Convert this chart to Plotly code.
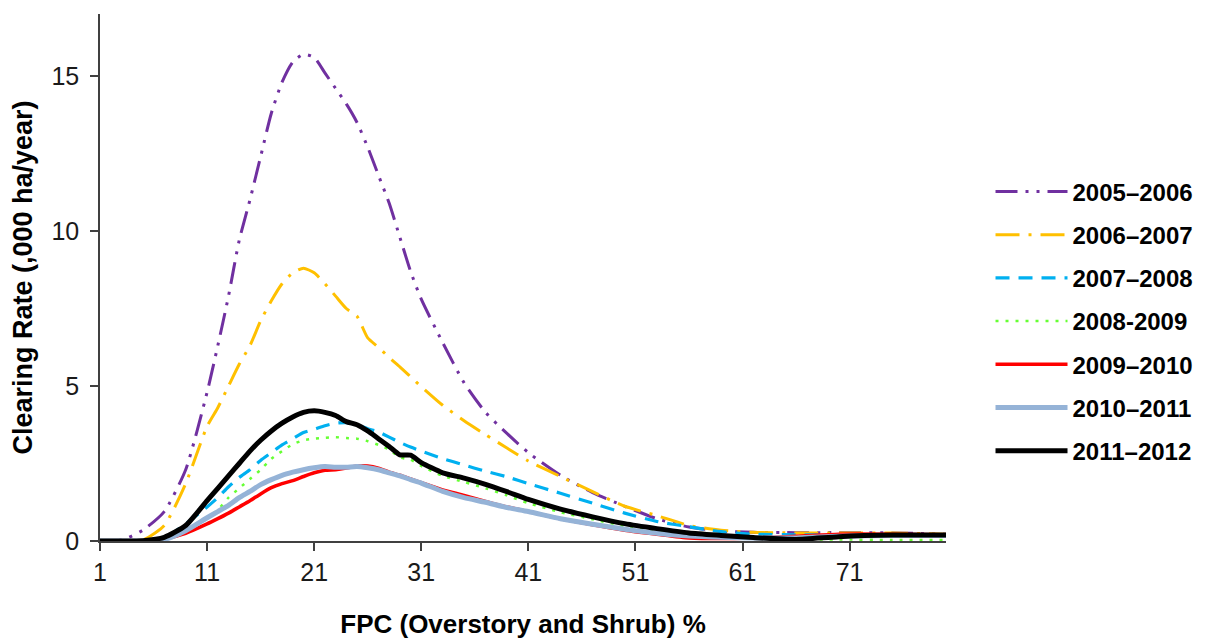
import plotly.graph_objects as go

fpc = [1, 3, 5, 7, 9,
       11, 12, 13, 14, 15, 16, 17, 18, 19, 20, 21, 22, 23, 24, 25, 26, 27, 28, 29, 30,
       31, 33, 35, 37, 39, 41,
       44, 47, 50, 53, 56, 59, 62, 66, 70, 75, 80]

s_2005_2006 = [0, 0.03, 0.35, 0.95, 2.3,
               4.8, 6.3, 7.9, 9.7, 11.0, 12.4, 13.8, 14.8, 15.45, 15.7, 15.6, 15.1, 14.6, 14.1, 13.5, 12.7, 11.8, 10.9, 9.8, 8.7,
               7.8, 6.4, 5.1, 4.15, 3.47, 2.85,
               2.12, 1.56, 1.12, 0.72, 0.45, 0.32, 0.28, 0.27, 0.27, 0.26, 0.22]
s_2006_2007 = [0, 0, 0.03, 0.5, 1.85,
               3.7, 4.3, 5.0, 5.7, 6.3, 7.1, 7.75, 8.3, 8.65, 8.8, 8.65, 8.3, 7.9, 7.5, 7.25, 6.55, 6.25, 5.92, 5.62, 5.3,
               4.98, 4.38, 3.88, 3.43, 3.0, 2.58,
               2.08, 1.59, 1.12, 0.82, 0.5, 0.35, 0.28, 0.26, 0.26, 0.26, 0.22]
s_2007_2008 = [0, 0, 0, 0.1, 0.55,
               1.1, 1.4, 1.75, 2.05, 2.3, 2.6, 2.85, 3.1, 3.3, 3.5, 3.6, 3.72, 3.8, 3.82, 3.75, 3.62, 3.52, 3.35, 3.18, 3.03,
               2.9, 2.66, 2.45, 2.25, 2.07, 1.85,
               1.54, 1.22, 0.9, 0.63, 0.46, 0.3, 0.22, 0.2, 0.2, 0.2, 0.2]
s_2008_2009 = [0, 0, 0, 0.05, 0.33,
               0.75, 1.0, 1.4, 1.7, 2.0, 2.3, 2.65, 2.9, 3.12, 3.25, 3.3, 3.33, 3.35, 3.32, 3.3, 3.22, 3.1, 2.95, 2.7, 2.62,
               2.42, 2.1, 1.9, 1.7, 1.47, 1.22,
               0.93, 0.7, 0.48, 0.33, 0.2, 0.13, 0.08, 0.05, 0.05, 0.03, 0.03]
s_2009_2010 = [0, 0, 0, 0.07, 0.25,
               0.55, 0.72, 0.9, 1.1, 1.3, 1.52, 1.72, 1.85, 1.95, 2.08, 2.2, 2.28, 2.3, 2.35, 2.42, 2.42, 2.35, 2.22, 2.12, 2.0,
               1.88, 1.65, 1.47, 1.28, 1.1, 0.95,
               0.72, 0.52, 0.35, 0.22, 0.1, 0.08, 0.1, 0.15, 0.22, 0.22, 0.2]
s_2010_2011 = [0, 0, 0, 0.05, 0.33,
               0.75, 0.95, 1.15, 1.4, 1.6, 1.82, 1.98, 2.12, 2.22, 2.3, 2.36, 2.4, 2.38, 2.38, 2.4, 2.36, 2.3, 2.2, 2.1, 1.98,
               1.87, 1.6, 1.4, 1.25, 1.08, 0.95,
               0.72, 0.54, 0.38, 0.25, 0.16, 0.12, 0.1, 0.1, 0.15, 0.18, 0.18]
s_2011_2012 = [0, 0, 0.01, 0.12, 0.5,
               1.3, 1.7, 2.1, 2.5, 2.9, 3.25, 3.55, 3.8, 4.0, 4.15, 4.2, 4.15, 4.05, 3.85, 3.75, 3.55, 3.3, 3.05, 2.78, 2.77,
               2.53, 2.2, 2.03, 1.83, 1.59, 1.34,
               1.03, 0.78, 0.56, 0.4, 0.26, 0.18, 0.11, 0.05, 0.14, 0.19, 0.19]

series_names = ["2005–2006", "2006–2007", "2007–2008", "2008-2009", "2009–2010", "2010–2011", "2011–2012"]
series_values = [s_2005_2006, s_2006_2007, s_2007_2008, s_2008_2009, s_2009_2010, s_2010_2011, s_2011_2012]
x_ticks = [1, 11, 21, 31, 41, 51, 61, 71]
y_ticks = [0, 5, 10, 15]

styles = [
    dict(color="#7030A0", width=3, dash="22px,8px,3px,8px,3px,8px"),
    dict(color="#FFC000", width=3, dash="24px,9px,3px,9px"),
    dict(color="#00B0F0", width=3.2, dash="14px,9px"),
    dict(color="#66FF33", width=2.5, dash="3px,7px"),
    dict(color="#FF0000", width=3.5, dash="solid"),
    dict(color="#95B3D7", width=5, dash="solid"),
    dict(color="#000000", width=5, dash="solid"),
]

fig = go.Figure()
for name, vals, st in zip(series_names, series_values, styles):
    fig.add_trace(go.Scatter(
        x=fpc, y=vals, name=name, mode="lines", legendgroup=name,
        line=dict(color=st["color"], width=st["width"], dash=st["dash"], shape="spline", smoothing=0.6),
    ))

font_family = "Liberation Sans, Arial, sans-serif"
fig.update_layout(
    width=1205, height=639,
    margin=dict(l=100, r=259, t=14, b=98, autoexpand=False),
    plot_bgcolor="white", paper_bgcolor="white",
    font=dict(family=font_family, size=25, color="#1a1a1a"),
    showlegend=True,
    legend=dict(
        xref="container", yref="container",
        x=0.822, y=0.735, xanchor="left", yanchor="top",
        font=dict(family=font_family, size=24, color="#000000", weight="bold"),
        itemwidth=72, tracegroupgap=9,
        bgcolor="rgba(0,0,0,0)",
    ),
    xaxis=dict(
        range=[1, 80], tickmode="array", tickvals=x_ticks, ticktext=[str(t) for t in x_ticks],
        showgrid=False, zeroline=False, showline=True, linecolor="#404040", linewidth=1.5,
        ticks="outside", ticklen=8, tickwidth=1.5, tickcolor="#404040", automargin=False,
        tickfont=dict(size=25, color="#1a1a1a"),
        title=dict(text="<b>FPC (Overstory and Shrub) %</b>", font=dict(size=26, color="#000000"), standoff=30),
    ),
    yaxis=dict(
        range=[0, 17], tickmode="array", tickvals=y_ticks,
        showgrid=False, zeroline=False, showline=True, linecolor="#404040", linewidth=1.5,
        ticks="outside", ticklen=8, tickwidth=1.5, tickcolor="#404040", automargin=False,
        tickfont=dict(size=25, color="#1a1a1a"), ticklabelstandoff=6,
        title=dict(text="<b>Clearing Rate (,000 ha/year)</b>", font=dict(size=27, color="#000000"), standoff=11),
    ),
)

fig.write_html("out.html")
